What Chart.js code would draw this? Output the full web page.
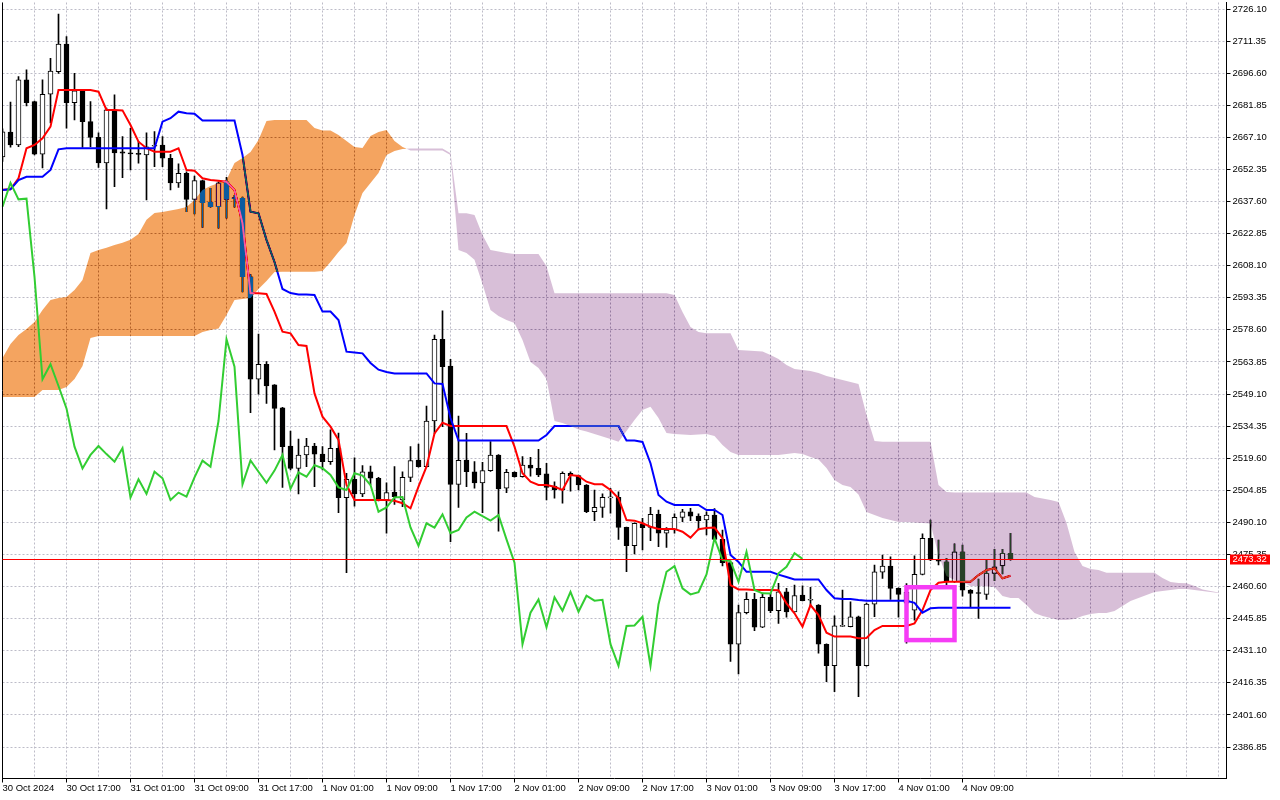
<!DOCTYPE html>
<html>
<head>
<meta charset="utf-8">
<script src="https://cdn.jsdelivr.net/npm/chart.js@4.4.1/dist/chart.umd.min.js"></script>
<style>
html,body{margin:0;padding:0;background:#fff;overflow:hidden}
canvas{display:block}
</style>
</head>
<body>
<canvas id="c" width="1280" height="800"></canvas>
<script>
// ---- Time axis (H1 bars, label every 8 bars) ----
const timeLabels = ['30 Oct 2024','30 Oct 17:00','31 Oct 01:00','31 Oct 09:00','31 Oct 17:00','1 Nov 01:00','1 Nov 09:00','1 Nov 17:00','2 Nov 01:00','2 Nov 09:00','2 Nov 17:00','3 Nov 01:00','3 Nov 09:00','3 Nov 17:00','4 Nov 01:00','4 Nov 09:00'];
const labelStep = 8;
const gridStep = 4;
const slotCount = 154;

// ---- Candles ----
const opens = [2658.1,2669.5,2663.6,2693.5,2683.5,2659.4,2686.9,2697.3,2710.0,2683.0,
2688.5,2674.3,2667.1,2655.4,2679.7,2660.5,2660.0,2659.8,2659.0,2663.0,
2663.6,2657.5,2646.2,2650.6,2638.6,2647.2,2637.2,2635.2,2646.7,2639.1,
2639.1,2603.0,2555.9,2562.8,2553.3,2542.8,2525.2,2514.9,2521.1,2525.2,
2521.5,2518.0,2524.2,2501.5,2509.9,2503.2,2513.4,2510.4,2500.4,2503.9,
2500.4,2510.8,2518.8,2515.7,2536.7,2574.3,2562.0,2507.6,2518.8,2513.4,
2508.3,2513.9,2521.1,2505.8,2513.1,2511.1,2516.5,2515.0,2512.4,2506.8,
2505.0,2512.7,2511.6,2507.3,2495.0,2497.0,2501.4,2501.6,2487.8,2479.4,
2489.4,2487.8,2493.8,2485.1,2486.6,2492.4,2495.0,2493.0,2491.2,2493.5,
2482.3,2471.6,2434.1,2448.6,2454.7,2441.9,2455.7,2449.5,2458.2,2449.0,
2456.7,2454.3,2452.1,2434.1,2424.2,2442.3,2442.2,2446.7,2424.2,2452.5,
2467.2,2470.0,2459.8,2453.0,2449.8,2466.2,2482.8,2472.8,2472.0,2462.8,
2476.6,2459.0,2457.6,2457.0,2466.7,2470.1,2475.9];
const highs = [2671.0,2683.3,2695.0,2698.1,2683.8,2693.5,2703.4,2723.8,2713.4,2696.5,
2688.9,2683.5,2669.2,2680.6,2686.6,2667.4,2671.3,2665.1,2669.2,2669.7,
2667.4,2659.3,2654.9,2651.2,2649.3,2647.5,2643.7,2646.6,2648.7,2640.5,
2639.7,2604.0,2576.7,2564.0,2553.5,2543.0,2532.1,2528.4,2528.8,2526.5,
2524.9,2532.6,2531.1,2512.7,2519.8,2516.2,2516.0,2510.8,2508.3,2515.7,
2513.4,2524.9,2526.1,2543.6,2576.2,2587.3,2565.1,2539.0,2531.0,2518.0,
2517.7,2527.2,2521.3,2514.5,2513.3,2520.3,2520.0,2523.7,2517.3,2508.8,
2513.4,2513.4,2511.8,2507.5,2505.0,2503.2,2505.8,2504.2,2488.0,2489.9,
2492.0,2497.0,2495.8,2487.7,2494.0,2496.1,2496.6,2494.0,2495.0,2496.5,
2486.6,2472.0,2452.1,2457.8,2457.5,2457.6,2457.5,2462.1,2459.8,2461.3,
2460.9,2460.3,2452.3,2434.3,2447.1,2459.0,2453.6,2447.0,2453.0,2470.5,
2475.1,2474.3,2460.0,2462.0,2474.7,2484.8,2491.2,2482.0,2473.6,2480.2,
2479.7,2459.2,2464.0,2472.8,2477.7,2477.7,2485.1];
const lows = [2656.0,2662.6,2662.8,2681.5,2659.0,2653.1,2673.7,2696.5,2671.3,2675.1,
2662.5,2662.8,2653.3,2634.2,2644.4,2648.6,2652.1,2655.2,2638.3,2653.6,
2653.6,2642.9,2644.1,2632.9,2631.9,2625.7,2635.0,2625.3,2629.9,2635.0,
2596.1,2540.5,2549.1,2544.8,2523.4,2506.2,2514.2,2503.2,2515.7,2506.5,
2514.2,2516.8,2494.6,2467.0,2497.6,2501.9,2507.3,2500.0,2485.1,2498.4,
2497.3,2508.8,2515.5,2515.6,2531.0,2534.1,2481.2,2497.0,2506.5,2505.8,
2494.6,2513.5,2486.1,2503.8,2510.9,2510.9,2511.4,2511.1,2500.4,2501.2,
2498.9,2504.5,2505.0,2494.6,2490.9,2492.4,2494.3,2482.3,2467.4,2475.6,
2477.4,2481.7,2478.9,2478.6,2485.1,2490.4,2490.9,2486.6,2484.3,2482.0,
2470.1,2426.2,2420.4,2448.0,2440.3,2441.7,2448.6,2443.7,2446.5,2448.8,
2454.0,2451.7,2430.0,2416.9,2412.3,2442.2,2442.0,2410.0,2424.0,2446.8,
2464.4,2454.7,2446.5,2434.6,2445.2,2466.0,2472.5,2470.5,2461.3,2462.5,
2456.2,2451.1,2446.0,2454.7,2463.3,2466.4,2472.7];
const closes = [2669.6,2663.6,2693.5,2683.0,2659.4,2686.9,2697.6,2710.0,2683.0,2688.5,
2674.3,2667.1,2655.4,2679.7,2660.0,2659.8,2659.5,2659.3,2662.8,2663.4,
2657.5,2646.2,2650.6,2638.6,2647.2,2637.1,2635.2,2646.2,2638.6,2638.9,
2603.0,2555.9,2562.8,2552.8,2542.5,2524.9,2514.9,2521.1,2525.2,2521.5,
2518.0,2524.2,2501.5,2509.9,2503.2,2513.4,2510.4,2500.4,2503.8,2501.9,
2510.8,2518.5,2515.7,2536.7,2574.3,2561.7,2507.6,2518.6,2513.4,2508.3,
2513.9,2521.1,2505.5,2513.1,2511.1,2516.4,2515.0,2511.9,2506.2,2505.0,
2512.7,2511.6,2507.3,2495.0,2497.0,2501.6,2501.8,2487.8,2479.4,2489.7,
2487.7,2493.8,2485.1,2486.6,2492.4,2495.0,2493.0,2490.9,2493.5,2482.3,
2471.6,2434.1,2448.6,2454.7,2441.9,2455.7,2449.5,2458.2,2449.0,2456.4,
2454.1,2454.5,2434.1,2424.2,2442.5,2442.7,2446.7,2424.2,2452.5,2467.4,
2470.0,2459.8,2457.0,2458.0,2466.2,2482.8,2472.8,2472.3,2462.8,2476.6,
2459.0,2457.5,2457.4,2466.7,2469.7,2475.9,2473.32];

// ---- Ichimoku lines ----
const tenkan = [2643.0,2643.2,2648.3,2662.1,2663.6,2666.7,2672.0,2688.9,2688.9,2688.9,
2688.9,2688.9,2688.1,2679.7,2679.7,2679.5,2672.8,2665.1,2662.1,2660.5,
2660.5,2660.5,2662.1,2652.1,2651.8,2648.3,2647.5,2647.2,2646.7,2642.9,
2627.6,2595.4,2595.4,2595.1,2587.0,2577.8,2577.0,2571.6,2571.2,2549.4,
2538.7,2534.1,2528.0,2507.3,2500.4,2500.4,2500.4,2500.4,2500.4,2500.0,
2498.9,2496.6,2506.5,2515.7,2531.0,2535.9,2534.4,2534.4,2534.4,2534.4,
2534.4,2534.4,2534.4,2534.4,2524.9,2512.7,2508.8,2507.3,2507.3,2506.5,
2505.0,2511.9,2511.4,2508.8,2507.6,2507.6,2505.0,2501.2,2491.2,2490.9,
2489.7,2488.1,2487.1,2487.1,2487.1,2485.8,2483.1,2487.0,2487.5,2487.7,
2482.8,2461.3,2459.3,2459.3,2459.0,2459.0,2459.0,2458.9,2452.9,2448.3,
2442.2,2452.1,2447.5,2439.4,2437.6,2437.6,2437.6,2436.8,2437.0,2440.6,
2442.5,2442.5,2442.5,2442.5,2443.7,2449.8,2459.0,2462.4,2462.8,2462.8,
2462.8,2462.8,2465.9,2468.2,2469.0,2464.4,2465.6];
const kijun = [2642.9,2643.2,2647.5,2649.0,2649.0,2649.0,2652.1,2661.6,2662.1,2662.1,
2662.1,2662.1,2662.1,2662.1,2662.1,2662.1,2662.1,2662.1,2662.1,2662.1,
2674.3,2675.9,2678.9,2678.2,2678.0,2674.8,2674.8,2674.8,2674.8,2674.8,
2659.0,2632.9,2632.2,2620.0,2609.8,2597.4,2595.5,2594.9,2594.9,2594.6,
2587.0,2587.0,2583.1,2568.6,2568.2,2567.8,2563.4,2560.3,2559.2,2558.6,
2558.6,2558.6,2558.6,2558.6,2554.0,2553.7,2538.1,2527.7,2527.7,2527.7,
2527.7,2527.7,2527.7,2527.7,2527.7,2527.7,2527.7,2527.7,2530.3,2534.4,
2534.4,2534.4,2534.4,2534.4,2534.4,2534.4,2534.4,2534.4,2527.7,2527.7,
2527.1,2517.3,2502.7,2499.6,2498.1,2498.1,2498.1,2498.1,2495.8,2495.8,
2493.5,2475.1,2471.9,2467.4,2467.4,2467.4,2467.4,2466.1,2465.0,2463.9,
2463.9,2463.9,2463.9,2459.0,2455.2,2454.9,2454.9,2454.4,2454.1,2454.1,
2454.1,2454.1,2454.1,2454.1,2453.1,2448.6,2450.6,2450.9,2450.9,2450.9,
2450.9,2450.9,2450.9,2450.9,2450.9,2450.9,2450.9];
const chikou = [2635.2,2646.2,2638.6,2638.9,2603.0,2555.9,2562.8,2552.8,2542.5,2524.9,
2514.9,2521.1,2525.2,2521.5,2518.0,2524.2,2501.5,2509.9,2503.2,2513.4,
2510.4,2500.4,2503.8,2501.9,2510.8,2518.5,2515.7,2536.7,2574.3,2561.7,
2507.6,2518.6,2513.4,2508.3,2513.9,2521.1,2505.5,2513.1,2511.1,2516.4,
2515.0,2511.9,2506.2,2505.0,2512.7,2511.6,2507.3,2495.0,2497.0,2501.6,
2501.8,2487.8,2479.4,2489.7,2487.7,2493.8,2485.1,2486.6,2492.4,2495.0,
2493.0,2490.9,2493.5,2482.3,2471.6,2434.1,2448.6,2454.7,2441.9,2455.7,
2449.5,2458.2,2449.0,2456.4,2454.1,2454.5,2434.1,2424.2,2442.5,2442.7,
2446.7,2424.2,2452.5,2467.4,2470.0,2459.8,2457.0,2458.0,2466.2,2482.8,
2472.8,2472.3,2462.8,2476.6,2459.0,2457.5,2457.4,2466.7,2469.7,2475.9,
2473.32];
const senkouA = [2565.7,2572.1,2576.2,2579.0,2582.2,2587.7,2592.3,2593.3,2593.7,2596.9,
2601.5,2613.9,2615.3,2616.3,2617.6,2618.6,2620.0,2622.7,2629.2,2632.3,
2632.8,2633.5,2634.2,2635.1,2638.3,2642.9,2644.7,2646.1,2647.5,2655.3,
2657.6,2660.4,2665.9,2674.6,2675.1,2675.1,2675.1,2675.1,2675.1,2671.4,
2670.2,2670.2,2668.2,2665.4,2662.7,2662.2,2667.7,2669.6,2670.5,2665.4,
2662.7,2661.1,2661.1,2661.1,2661.1,2661.1,2659.0,2615.3,2613.9,2610.8,
2599.7,2587.7,2585.0,2583.1,2581.8,2574.0,2563.8,2561.1,2556.0,2536.7,
2535.8,2534.4,2532.8,2531.9,2530.7,2529.6,2528.4,2527.2,2532.1,2537.2,
2541.8,2543.3,2538.1,2531.2,2530.7,2530.5,2530.3,2530.5,2530.7,2529.8,
2525.7,2522.5,2521.1,2521.1,2521.1,2521.1,2521.1,2521.1,2521.5,2522.0,
2521.5,2520.2,2519.0,2515.1,2509.6,2507.3,2506.4,2502.9,2494.9,2493.5,
2492.1,2491.2,2490.3,2490.3,2490.1,2489.8,2489.6,2475.1,2465.5,2463.6,
2462.7,2460.9,2460.9,2460.6,2460.4,2456.3,2455.4,2455.4,2452.1,2448.4,
2447.1,2446.2,2445.2,2445.2,2445.7,2447.1,2448.0,2448.4,2448.4,2449.4,
2451.7,2454.0,2455.4,2456.7,2458.1,2458.6,2459.0,2459.5,2459.5,2459.0,
2458.6,2458.1,2457.6];
const senkouB = [2547.7,2547.7,2547.7,2547.7,2547.7,2551.0,2551.0,2551.0,2552.3,2556.0,
2562.0,2574.9,2575.8,2575.8,2575.8,2575.8,2575.8,2575.8,2575.8,2575.8,
2575.8,2575.8,2575.8,2575.8,2575.8,2577.6,2578.5,2579.2,2585.4,2592.3,
2592.8,2593.3,2597.4,2601.1,2605.2,2605.3,2605.3,2605.3,2605.3,2605.3,
2605.7,2609.8,2614.4,2618.5,2631.4,2641.5,2646.1,2650.7,2659.0,2660.8,
2661.7,2662.0,2662.0,2662.0,2662.0,2662.0,2659.8,2632.2,2632.2,2631.4,
2622.2,2615.3,2614.6,2613.9,2613.5,2613.5,2613.5,2613.5,2607.9,2595.4,
2595.4,2595.4,2595.4,2595.4,2595.4,2595.4,2595.4,2595.4,2595.4,2595.4,
2595.4,2595.4,2595.4,2595.4,2594.6,2586.8,2579.9,2577.6,2577.0,2577.0,
2577.0,2577.0,2569.4,2569.1,2568.9,2568.7,2567.1,2565.2,2562.5,2560.6,
2560.2,2559.7,2558.8,2557.4,2556.5,2555.6,2554.6,2553.7,2539.5,2527.5,
2527.2,2527.2,2527.2,2527.2,2527.2,2527.2,2527.2,2507.3,2504.1,2503.8,
2503.8,2503.8,2503.8,2503.8,2503.8,2503.8,2503.8,2503.8,2503.8,2501.8,
2501.1,2500.4,2499.5,2489.8,2476.5,2470.1,2468.7,2468.2,2467.0,2467.0,
2467.0,2467.0,2467.0,2467.0,2467.0,2464.5,2462.7,2462.2,2462.1,2460.9,
2459.3,2458.6,2457.9];

// ---- Price axis ----
const yTicks = [2386.85,2401.60,2416.35,2431.10,2445.85,2460.60,2475.35,2490.10,2504.85,2519.60,2534.35,2549.10,2563.85,2578.60,2593.35,2608.10,2622.85,2637.60,2652.35,2667.10,2681.85,2696.60,2711.35,2726.10];
const yMin = 2372.37;
const yMax = 2729.09;
const lastPrice = 2473.32;

// ---- Highlight box (bar index range and price range) ----
const boxFromBar = 113, boxToBar = 119, boxTop = 2460.3, boxBottom = 2436.0;

// ---- Build library inputs ----
const slotLabels = Array.from({length: slotCount}, (_, i) =>
  (i % labelStep === 0 && i / labelStep < timeLabels.length) ? timeLabels[i / labelStep] : '');
const wickData = highs.map((h, i) => [lows[i], h]);
const bodyData = opens.map((o, i) => [o, closes[i]]);

const GRID = '#bdbcc8';
const FONT = {family: 'Liberation Sans, Arial, sans-serif', size: 9.5};

const bgPlugin = {
  id: 'bg',
  beforeDraw(chart) {
    const c = chart.ctx;
    c.save(); c.fillStyle = '#fff'; c.fillRect(0, 0, chart.width, chart.height); c.restore();
  }
};

const cloudPlugin = {
  id: 'cloud',
  afterDatasetDraw(chart, args) {
    if (chart.data.datasets[args.index].label !== 'Kijun') return;
    const pa = chart.getDatasetMeta(3).data, pb = chart.getDatasetMeta(4).data;
    const n = Math.min(pa.length, pb.length, senkouA.length, senkouB.length);
    const area = chart.chartArea, c = chart.ctx;
    const runs = [];
    let run = null;
    for (let i = 0; i < n; i++) {
      const s = senkouA[i] >= senkouB[i] ? 1 : -1;
      const A = [pa[i].x, pa[i].y], B = [pb[i].x, pb[i].y];
      if (!run) { run = {s, up: [A], lo: [B]}; continue; }
      if (s === run.s) { run.up.push(A); run.lo.push(B); continue; }
      const d0 = senkouA[i-1] - senkouB[i-1], d1 = senkouA[i] - senkouB[i];
      const t = d0 / (d0 - d1);
      const cx = pa[i-1].x + t * (pa[i].x - pa[i-1].x);
      const cy = pa[i-1].y + t * (pa[i].y - pa[i-1].y);
      run.up.push([cx, cy]); run.lo.push([cx, cy]);
      runs.push(run);
      run = {s, up: [[cx, cy], A], lo: [[cx, cy], B]};
    }
    if (run) runs.push(run);
    c.save();
    c.beginPath(); c.rect(area.left, area.top, area.right - area.left, area.bottom - area.top); c.clip();
    c.globalCompositeOperation = 'difference';
    runs.forEach(r => {
      c.beginPath();
      r.up.forEach((p, k) => k ? c.lineTo(p[0], p[1]) : c.moveTo(p[0], p[1]));
      for (let k = r.lo.length - 1; k >= 0; k--) c.lineTo(r.lo[k][0], r.lo[k][1]);
      c.closePath();
      c.fillStyle = r.s > 0 ? 'rgb(11,91,159)' : 'rgb(39,64,39)';
      c.fill();
    });
    c.restore();
  }
};

const overlayPlugin = {
  id: 'overlay',
  afterDraw(chart) {
    const c = chart.ctx, a = chart.chartArea;
    const xs = chart.scales.x, ys = chart.scales.y;
    c.save();
    // left frame
    c.strokeStyle = '#000'; c.lineWidth = 1;
    c.beginPath(); c.moveTo(a.left, a.top); c.lineTo(a.left, a.bottom); c.stroke();
    // last price line
    const py = Math.round(ys.getPixelForValue(lastPrice)) + 0.5;
    c.strokeStyle = '#ff0000';
    c.beginPath(); c.moveTo(a.left, py); c.lineTo(a.right, py); c.stroke();
    // price tag
    c.fillStyle = '#ff0000';
    c.fillRect(a.right + 3.5, py - 5, 40, 10);
    c.fillStyle = '#fff';
    c.font = '9.5px "Liberation Sans", Arial, sans-serif';
    c.textBaseline = 'middle'; c.textAlign = 'left';
    c.fillText(lastPrice.toFixed(2), a.right + 6, py);
    // highlight box
    const x1 = xs.getPixelForValue(boxFromBar), x2 = xs.getPixelForValue(boxToBar);
    const y1 = ys.getPixelForValue(boxTop), y2 = ys.getPixelForValue(boxBottom);
    c.strokeStyle = 'rgb(245,60,245)'; c.lineWidth = 4.5;
    c.strokeRect(x1, y1, x2 - x1, y2 - y1);
    c.restore();
  }
};

new Chart(document.getElementById('c'), {
  type: 'bar',
  data: {
    labels: slotLabels,
    datasets: [
      {type: 'line', label: 'Chikou', data: chikou, borderColor: '#32cd32', borderWidth: 2, pointRadius: 0, tension: 0, fill: false, order: 0},
      {type: 'line', label: 'Kijun', data: kijun, borderColor: '#0000ff', borderWidth: 2, pointRadius: 0, tension: 0, fill: false, order: 1},
      {type: 'line', label: 'Tenkan', data: tenkan, borderColor: '#ff0000', borderWidth: 2, pointRadius: 0, tension: 0, fill: false, order: 2},
      {type: 'line', label: 'SenkouA', data: senkouA, showLine: false, pointRadius: 0, borderColor: 'rgba(0,0,0,0)', fill: false, order: 3},
      {type: 'line', label: 'SenkouB', data: senkouB, showLine: false, pointRadius: 0, borderColor: 'rgba(0,0,0,0)', fill: false, order: 3},
      {type: 'bar', label: 'Body', data: bodyData,
        backgroundColor: ctx => (closes[ctx.dataIndex] >= opens[ctx.dataIndex] ? '#ffffff' : '#000000'),
        borderColor: '#000000', borderWidth: 1, borderSkipped: false, barThickness: 5, minBarLength: 1, grouped: false, order: 4},
      {type: 'bar', label: 'Wick', data: wickData, backgroundColor: '#000000', borderWidth: 0, barThickness: 1, grouped: false, order: 5}
    ]
  },
  options: {
    responsive: false,
    devicePixelRatio: 1,
    animation: false,
    events: [],
    layout: {padding: {left: 2.5, top: 2.5, right: 0, bottom: 0}},
    plugins: {legend: {display: false}, tooltip: {enabled: false}, title: {display: false}},
    scales: {
      x: {
        type: 'category',
        offset: false,
        grid: {
          offset: false,
          color: ctx => (ctx.index % gridStep === 0 ? GRID : 'rgba(0,0,0,0)'),
          lineWidth: 1,
          drawTicks: true,
          tickLength: 4,
          tickColor: ctx => (ctx.index % labelStep === 0 && ctx.index / labelStep < timeLabels.length ? '#000' : 'rgba(0,0,0,0)'),
          tickBorderDash: []
        },
        border: {display: true, color: '#000', width: 1, dash: [2, 2]},
        ticks: {autoSkip: false, maxRotation: 0, minRotation: 0, align: 'start', padding: 0, color: '#000', font: FONT},
        afterFit: s => { s.height = 21.5; s.paddingLeft = 0; s.paddingRight = 0; }
      },
      y: {
        type: 'linear',
        position: 'right',
        min: yMin,
        max: yMax,
        afterBuildTicks: s => { s.ticks = yTicks.map(v => ({value: v})); },
        grid: {color: GRID, lineWidth: 1, drawTicks: true, tickLength: 4, tickColor: '#000', tickBorderDash: []},
        border: {display: true, color: '#000', width: 1, dash: [2, 2]},
        ticks: {autoSkip: false, padding: 2, color: '#000', font: FONT, callback: v => Number(v).toFixed(2)},
        afterFit: s => { s.width = 53.5; s.paddingTop = 0; s.paddingBottom = 0; }
      }
    }
  },
  plugins: [bgPlugin, cloudPlugin, overlayPlugin]
});
</script>
</body>
</html>
